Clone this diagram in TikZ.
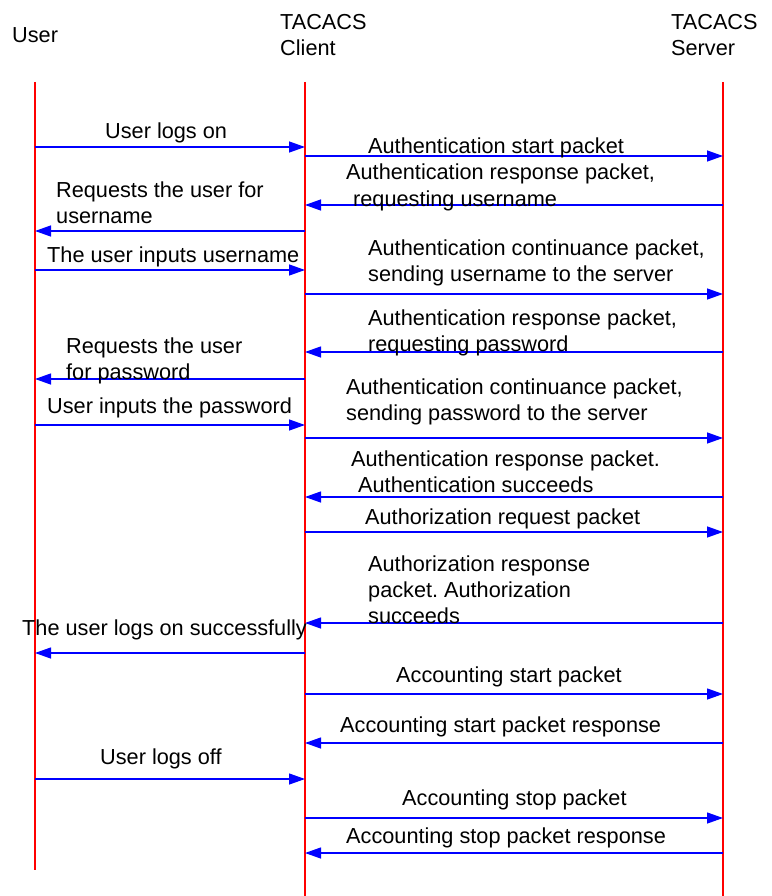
\documentclass[tikz,border=0pt]{standalone}
\usepackage{fontspec}
\setmainfont{Liberation Sans}
\usepackage{xcolor}
\usetikzlibrary{arrows.meta, positioning}

\begin{document}
\frenchspacing
\begin{tikzpicture}[
    x=1pt, y=-1pt,
    font=\fontsize{21.7}{26}\selectfont,
    head/.style={anchor=base west, inner sep=0pt, align=left},
    msgtext/.style={anchor=base west, inner sep=0pt, align=left},
    lifeline/.style={draw=red, line width=1.3pt},
    msg/.style={draw=blue, line width=1.3pt, -{Triangle[length=16pt, width=11pt]}}
]
    \useasboundingbox (0,0) rectangle (771,896);

    % participants (base = last line)
    \node (user) [head] at (12,43) {User};
    \node (client) [head] at (280,56) {TACACS\\Client};
    \node (server) [head] at (671,56) {TACACS\\Server};

    % lifelines
    \coordinate (ut) at (35,82);
    \coordinate (ub) at (35,870);
    \coordinate (ct) at (305,82);
    \coordinate (cb) at (305,896);
    \coordinate (st) at (723,82);
    \coordinate (sb) at (723,896);
    \draw [lifeline] (ut) -- (ub);
    \draw [lifeline] (ct) -- (cb);
    \draw [lifeline] (st) -- (sb);

    % messages
    \draw [msg] (ut |- 0,147) -- (ct |- 0,147);
    \node (m1) [msgtext] at (105,139) {User logs on};
    \draw [msg] (ct |- 0,156) -- (st |- 0,156);
    \node (m2) [msgtext] at (368,154) {Authentication start packet};
    \draw [msg] (st |- 0,205) -- (ct |- 0,205);
    \node (m3) [msgtext] at (346,206) {Authentication response packet,\\\hspace{7pt}requesting username};
    \draw [msg] (ct |- 0,231) -- (ut |- 0,231);
    \node (m4) [msgtext] at (56,223) {Requests the user for\\username};
    \draw [msg] (ut |- 0,270) -- (ct |- 0,270);
    \node (m5) [msgtext] at (47,262) {The user inputs username};
    \draw [msg] (ct |- 0,294) -- (st |- 0,294);
    \node (m6) [msgtext] at (368,281) {Authentication continuance packet,\\sending username to the server};
    \draw [msg] (st |- 0,352) -- (ct |- 0,352);
    \node (m7) [msgtext] at (368,351) {Authentication response packet,\\requesting password};
    \draw [msg] (ct |- 0,379) -- (ut |- 0,379);
    \node (m8) [msgtext] at (66,379) {Requests the user\\for password};
    \draw [msg] (ut |- 0,425) -- (ct |- 0,425);
    \node (m9) [msgtext] at (47,413) {User inputs the password};
    \draw [msg] (ct |- 0,438) -- (st |- 0,438);
    \node (m10) [msgtext] at (346,420) {Authentication continuance packet,\\sending password to the server};
    \draw [msg] (st |- 0,497) -- (ct |- 0,497);
    \node (m11) [msgtext] at (351,492) {Authentication response packet.\\\hspace{7pt}Authentication succeeds};
    \draw [msg] (ct |- 0,532) -- (st |- 0,532);
    \node (m12) [msgtext] at (365,524) {Authorization request packet};
    \draw [msg] (st |- 0,623) -- (ct |- 0,623);
    \node (m13) [msgtext] at (368,623) {Authorization response\\packet. Authorization\\succeeds};
    \draw [msg] (ct |- 0,653) -- (ut |- 0,653);
    \node (m14) [msgtext] at (22,635) {The user logs on successfully};
    \draw [msg] (ct |- 0,694) -- (st |- 0,694);
    \node (m15) [msgtext] at (396,682) {Accounting start packet};
    \draw [msg] (st |- 0,743) -- (ct |- 0,743);
    \node (m16) [msgtext] at (340,732) {Accounting start packet response};
    \draw [msg] (ut |- 0,779) -- (ct |- 0,779);
    \node (m17) [msgtext] at (100,764) {User logs off};
    \draw [msg] (ct |- 0,818) -- (st |- 0,818);
    \node (m18) [msgtext] at (402,805) {Accounting stop packet};
    \draw [msg] (st |- 0,853) -- (ct |- 0,853);
    \node (m19) [msgtext] at (346,843) {Accounting stop packet response};

\end{tikzpicture}
\end{document}
